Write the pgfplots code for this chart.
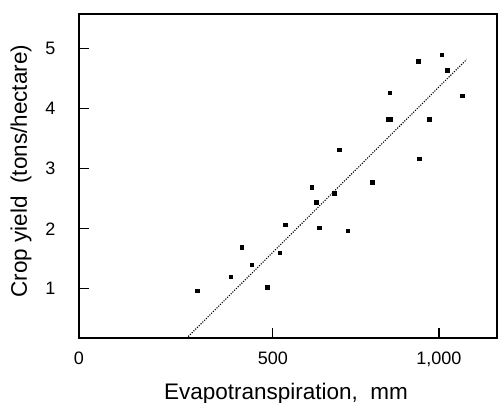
\documentclass[border=0pt]{standalone}
\usepackage{fontspec}
\setmainfont{Liberation Sans}
\usepackage{pgfplots}
\pgfplotsset{compat=1.18}
\begin{document}
\begin{tikzpicture}
\begin{axis}[
  scale only axis,
  width=418bp, height=324bp,
  xmin=-84, xmax=1175,
  ymin=0.18, ymax=5.58,
  axis line style={line width=2.6bp},
  tick style={line width=1.2bp, black},
  major tick length=10bp,
  tick align=inside,
  xtick={500,1000},
  xticklabels={500,{1,000}},
  extra x ticks={-84},
  extra x tick labels={0},
  extra x tick style={major tick length=0pt},
  ytick={1,2,3,4,5},
  xtick pos=bottom, ytick pos=left,
  /pgf/number format/assume math mode=true,
  tick label style={font=\fontsize{18bp}{20bp}\selectfont},
  xticklabel shift=10bp,
  yticklabel shift=20bp,
  xlabel={Evapotranspiration,\ \ mm},
  ylabel={Crop yield\ \ (tons/hectare)},
  label style={font=\fontsize{22.5bp}{24bp}\selectfont},
  xlabel style={at={(axis description cs:0.5,0)}, anchor=base, yshift=-61bp, xshift=-2bp},
  ylabel style={at={(axis description cs:0,0.5)}, anchor=center, yshift=58bp, xshift=5bp},
  clip=false,
]
\addplot[only marks, mark=square*, mark size=1.8bp, black] coordinates {
(938,4.79) (1008,4.90) (1025,4.645) (1071,4.22) (852,4.27)
(847,3.83) (854,3.83) (971,3.83) (700,3.32) (941,3.17)
(800,2.78) (617,2.69) (684,2.59) (630,2.445) (537,2.07)
(639,2.02) (725,1.97) (406,1.695) (521,1.605) (436,1.40)
(373.5,1.20) (483,1.03) (272,0.97)
};
\addplot[black, line width=1.1bp, dash pattern=on 1.1bp off 1.4bp] coordinates {(245,0.205) (1083,4.82)};
\coordinate (bl) at (rel axis cs:0,0);
\coordinate (tr) at (rel axis cs:1,1);
\end{axis}
\pgfresetboundingbox
\path[use as bounding box] ([shift={(-79bp,-65bp)}]bl) rectangle ([shift={(2bp,14bp)}]tr);
\end{tikzpicture}
\end{document}
